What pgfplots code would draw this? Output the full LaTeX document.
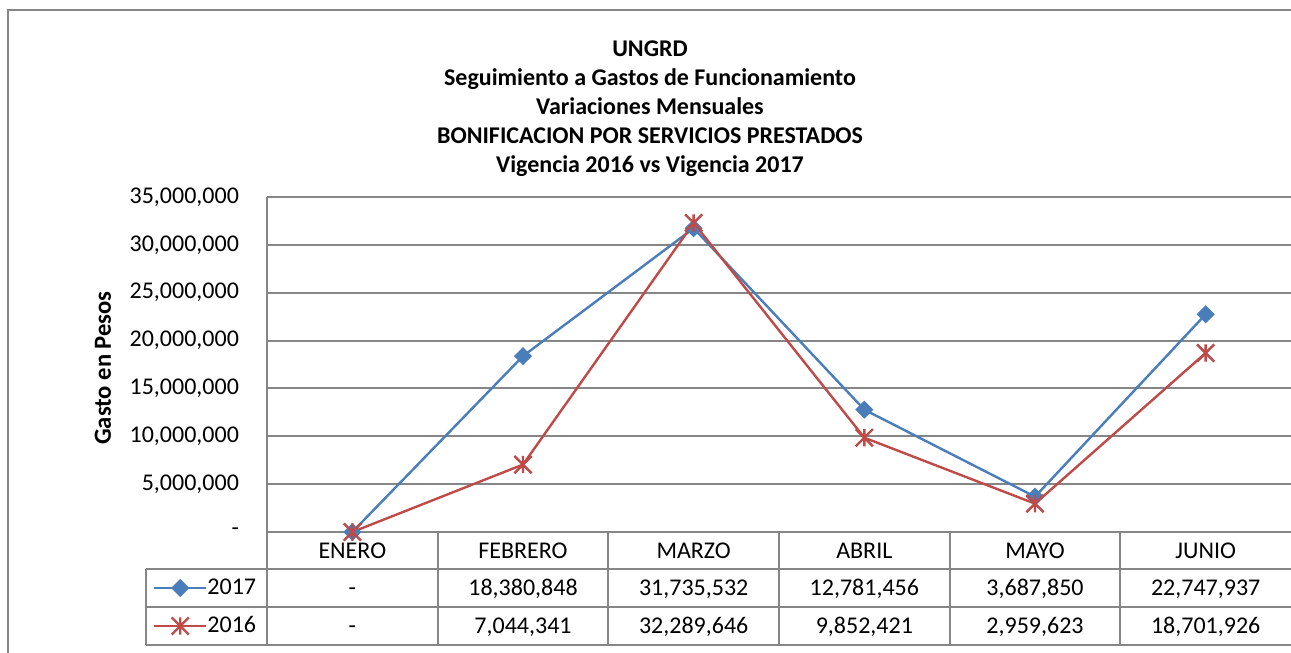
\documentclass[border=0pt]{standalone}
\usepackage{pgfplots}
\pgfplotsset{compat=1.18}
\usepackage{fontspec}
\setmainfont{Carlito}
\definecolor{gridgray}{HTML}{868686}
\definecolor{ser17}{HTML}{4A7EBB}
\definecolor{ser16}{HTML}{BE4B48}
\pgfdeclareplotmark{xstar}{%
 \pgfpathmoveto{\pgfqpoint{-\pgfplotmarksize}{-\pgfplotmarksize}}%
 \pgfpathlineto{\pgfqpoint{\pgfplotmarksize}{\pgfplotmarksize}}%
 \pgfpathmoveto{\pgfqpoint{-\pgfplotmarksize}{\pgfplotmarksize}}%
 \pgfpathlineto{\pgfqpoint{\pgfplotmarksize}{-\pgfplotmarksize}}%
 \pgfpathmoveto{\pgfqpoint{0pt}{-\pgfplotmarksize}}%
 \pgfpathlineto{\pgfqpoint{0pt}{\pgfplotmarksize}}%
 \pgfusepathqstroke}
\begin{document}
\begin{tikzpicture}
\useasboundingbox (0,0) rectangle (645.5pt,-326.5pt);
\clip (0,0) rectangle (645.5pt,-326.5pt);
\begin{scope}[x=0.5pt,y=-0.5pt]
\draw[gridgray, line width=1pt] (8,10) rectangle (1330,700);
\begin{scope}[every node/.style={font=\bfseries\fontsize{12}{14}\selectfont, anchor=base}]
\node at (650,56) {UNGRD};
\node at (650,85) {Seguimiento a Gastos de Funcionamiento};
\node at (650,114) {Variaciones Mensuales};
\node at (650,143) {BONIFICACION POR SERVICIOS PRESTADOS};
\node at (650,172) {Vigencia 2016 vs Vigencia 2017};
\end{scope}
\end{scope}
\begin{axis}[at={(133.5pt,-266pt)}, anchor=south west,
 scale only axis, width=512pt, height=167.5pt,
 xmin=-0.5, xmax=5.5, ymin=0, ymax=35000000,
 axis x line*=bottom, axis y line*=left,
 axis line style={gridgray, line width=1pt, -},
 xtick={0,...,5}, xticklabels={ENERO,FEBRERO,MARZO,ABRIL,MAYO,JUNIO},
 ytick={0,5000000,10000000,15000000,20000000,25000000,30000000,35000000},
 yticklabels={-,{5,000,000},{10,000,000},{15,000,000},{20,000,000},{25,000,000},{30,000,000},{35,000,000}},
 scaled y ticks=false,
 major tick length=0pt, tick style={draw=none},
 ymajorgrids, grid style={gridgray, line width=1pt},
 ticklabel style={font=\fontsize{12}{14}\selectfont},
 xticklabel style={anchor=base, yshift=-13pt},
 yticklabel style={anchor=east, xshift=-10.5pt},
 ylabel={Gasto en Pesos},
 ylabel style={font=\bfseries\fontsize{12.3}{14}\selectfont, at={(axis description cs:-0.1602,0.4896)}, anchor=center},
 clip=false,
 legend style={at={(axis description cs:-0.1113,-0.1104)}, anchor=north west, draw=none, fill=none, inner sep=0pt, outer sep=0pt,
   font=\fontsize{12}{14}\selectfont, row sep=0pt, nodes={inner sep=0pt, minimum height=19pt},
   /tikz/every even column/.append style={column sep=3.5pt}},
 legend image code/.code={\draw[mark repeat=2,mark phase=2] plot coordinates {(0pt,0pt) (13pt,0pt) (26pt,0pt)};},
 legend cell align=left,
]
\addplot[ser17, line width=1.2pt, mark=square*, mark size=2.6pt, mark options={rotate=45, solid}] coordinates {
 (0,0) (1,18380848) (2,31735532) (3,12781456) (4,3687850) (5,22747937)};
\addlegendentry{2017}
\addplot[ser16, line width=1.2pt, mark=xstar, mark size=4.3pt, mark options={solid}] coordinates {
 (0,0) (1,7044341) (2,32289646) (3,9852421) (4,2959623) (5,18701926)};
\addlegendentry{2016}
\end{axis}
\begin{scope}[x=0.5pt,y=-0.5pt]
\draw[gridgray, line width=1pt] (146,569)--(1291,569) (146,607)--(1291,607) (146,645)--(1291,645)
 (146,569)--(146,645) (267,532)--(267,645)
 (437.67,532)--(437.67,645) (608.33,532)--(608.33,645) (779,532)--(779,645)
 (949.67,532)--(949.67,645) (1120.33,532)--(1120.33,645);
\begin{scope}[every node/.style={font=\fontsize{12}{14}\selectfont, anchor=base}]
\node at (352.33,595.5) {-};
\node at (523,595.5) {18,380,848};
\node at (693.67,595.5) {31,735,532};
\node at (864.33,595.5) {12,781,456};
\node at (1035,595.5) {3,687,850};
\node at (1205.67,595.5) {22,747,937};
\node at (352.33,633) {-};
\node at (523,633) {7,044,341};
\node at (693.67,633) {32,289,646};
\node at (864.33,633) {9,852,421};
\node at (1035,633) {2,959,623};
\node at (1205.67,633) {18,701,926};
\end{scope}
\end{scope}
\end{tikzpicture}
\end{document}
